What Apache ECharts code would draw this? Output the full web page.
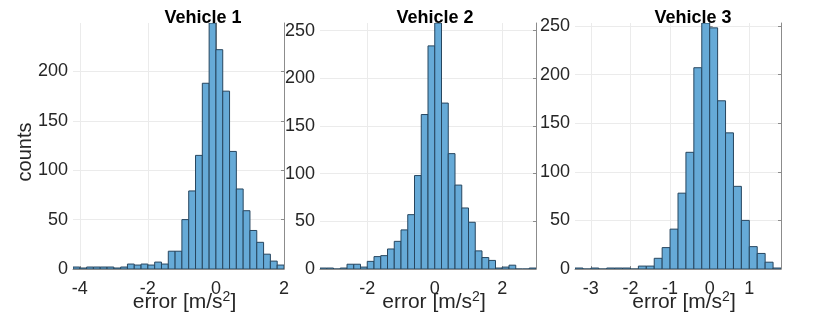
<!DOCTYPE html>
<html>
<head>
<meta charset="utf-8">
<script src="https://cdn.jsdelivr.net/npm/echarts@6/dist/echarts.min.js"></script>
<style>
  html, body { margin: 0; padding: 0; background: #fff; }
  #chart { width: 830px; height: 313px; }
</style>
</head>
<body>
<div id="chart"></div>
<script>
// ---- data ----
const titles = ['Vehicle 1', 'Vehicle 2', 'Vehicle 3'];
const binWidth = 0.2;

const binStart1 = -4.2;
const counts1 = [2, 1, 2, 2, 2, 2, 1, 2, 5, 4, 5, 4, 7, 5, 18, 18, 50, 79, 115, 188, 249, 222, 180, 119, 81, 59, 39, 27, 15, 8, 4];

const binStart2 = -3.4;
const counts2 = [1, 1, 0, 1, 5, 5, 2, 8, 13, 14, 21, 29, 41, 57, 98, 162, 234, 258, 174, 121, 88, 64, 49, 19, 12, 9, 1, 2, 4, 0, 0, 1];

const binStart3 = -3.4;
const counts3 = [1, 0, 1, 0, 1, 1, 1, 0, 3, 3, 11, 22, 41, 78, 120, 207, 253, 248, 173, 140, 85, 50, 23, 16, 7, 1];

const xRanges = [[-4.2, 2.0], [-3.4, 3.0], [-3.4, 1.8]];
const yMax = [249, 258, 253];
const xTicks1 = [-4, -2, 0, 2];
const xTicks2 = [-2, 0, 2];
const xTicks3 = [-3, -2, -1, 0, 1];
const yTicks1 = [0, 50, 100, 150, 200];
const yTicks2 = [0, 50, 100, 150, 200, 250];
const yTicks3 = [0, 50, 100, 150, 200, 250];

const yLabel = 'counts';
const xLabelMain = 'error [m/s';
const xLabelSup = '2';

// ---- build ----
function toBins(start, counts) {
  return counts.map((c, i) => [
    +(start + i * binWidth).toFixed(3),
    +(start + (i + 1) * binWidth).toFixed(3),
    c
  ]);
}
const binsAll = [toBins(binStart1, counts1), toBins(binStart2, counts2), toBins(binStart3, counts3)];
const xTicksAll = [xTicks1, xTicks2, xTicks3];
const yTicksAll = [yTicks1, yTicks2, yTicks3];

const gridBoxes = [
  { left: 73, width: 211 },
  { left: 320, width: 216 },
  { left: 575, width: 206 }
];
const titleCenters = [198, 430, 688];

const textColor = '#262626';
const axisColor = '#8c8c8c';
const gridColor = '#ebebeb';
const fontFam = '"Liberation Sans", Arial, Helvetica, sans-serif';

const grids = [], xAxes = [], yAxes = [], series = [], titleOpts = [];

for (let g = 0; g < 3; g++) {
  grids.push({ left: gridBoxes[g].left, width: gridBoxes[g].width, top: 23, height: 246,
    containLabel: false, outerBoundsMode: 'none' });
  titleOpts.push({
    text: titles[g], left: titleCenters[g], top: 4, textAlign: 'center',
    textStyle: { fontFamily: fontFam, fontSize: 18, fontWeight: 'bold', color: '#000' }
  });
  xAxes.push({
    type: 'value', gridIndex: g, min: xRanges[g][0], max: xRanges[g][1],
    axisLine: { show: true, onZero: false, lineStyle: { color: axisColor, width: 1 } },
    axisTick: { show: true, inside: true, length: 3, customValues: xTicksAll[g], lineStyle: { color: axisColor } },
    axisLabel: { customValues: xTicksAll[g], fontFamily: fontFam, fontSize: 18, color: textColor, margin: 11 },
    splitLine: { show: true, lineStyle: { color: gridColor, width: 1 } },
    name: '{m|' + xLabelMain + '}{s|' + xLabelSup + '}{m|]}',
    nameLocation: 'middle', nameGap: 21, nameMoveOverlap: false,
    nameTextStyle: {
      padding: [0, 0, 0, 12],
      rich: {
        m: { fontFamily: fontFam, fontSize: 21, color: textColor, lineHeight: 24 },
        s: { fontFamily: fontFam, fontSize: 14, color: textColor, verticalAlign: 'top', lineHeight: 14 }
      }
    }
  });
  yAxes.push({
    type: 'value', gridIndex: g, min: 0, max: yMax[g], position: 'left',
    axisLine: { show: true, lineStyle: { color: axisColor, width: 1 } },
    axisTick: { show: true, inside: true, length: 3, customValues: yTicksAll[g], lineStyle: { color: axisColor } },
    axisLabel: { customValues: yTicksAll[g], fontFamily: fontFam, fontSize: 18, color: textColor, margin: 5 },
    splitLine: { show: true, lineStyle: { color: gridColor, width: 1 } },
    name: g === 0 ? yLabel : '',
    nameLocation: 'middle', nameGap: 38, nameRotate: 90, nameMoveOverlap: false,
    nameTextStyle: { fontFamily: fontFam, fontSize: 20, color: textColor, padding: [0, 12, 0, 0] }
  });
  yAxes.push({
    type: 'value', gridIndex: g, min: 0, max: yMax[g], position: 'right',
    axisLine: { show: true, lineStyle: { color: axisColor, width: 1 } },
    axisTick: { show: true, inside: true, length: 3, customValues: yTicksAll[g], lineStyle: { color: axisColor } },
    axisLabel: { show: false, customValues: yTicksAll[g] },
    splitLine: { show: false }
  });
  series.push({
    type: 'custom', xAxisIndex: g, yAxisIndex: 2 * g, clip: true,
    data: binsAll[g],
    encode: { x: [0, 1], y: 2 },
    renderItem: function (params, api) {
      const p0 = api.coord([api.value(0), api.value(2)]);
      const p1 = api.coord([api.value(1), 0]);
      return {
        type: 'rect',
        shape: { x: p0[0], y: p0[1], width: p1[0] - p0[0], height: p1[1] - p0[1] },
        style: { fill: '#66aad7', stroke: '#27465f', lineWidth: 1 }
      };
    }
  });
}

const chart = echarts.init(document.getElementById('chart'), null, { renderer: 'canvas' });
chart.setOption({
  animation: false,
  backgroundColor: '#fff',
  title: titleOpts,
  grid: grids,
  xAxis: xAxes,
  yAxis: yAxes,
  series: series
});
</script>
</body>
</html>
